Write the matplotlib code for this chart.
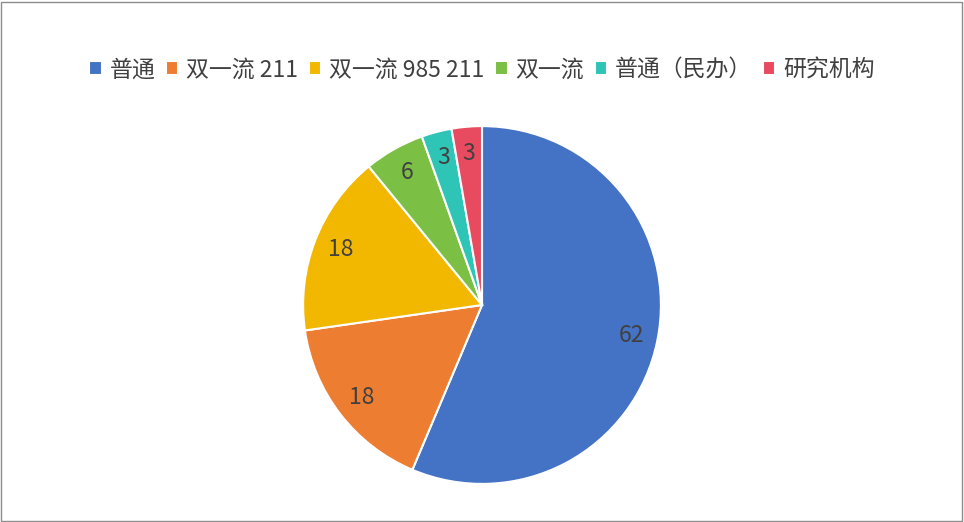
import matplotlib.pyplot as plt
from matplotlib.patches import Rectangle

plt.rcParams['font.family'] = ['Noto Sans CJK SC', 'DejaVu Sans']

categories = ['普通', '双一流 211', '双一流 985 211', '双一流', '普通（民办）', '研究机构']
values = [62, 18, 18, 6, 3, 3]
colors = ['#4472C4', '#ED7D31', '#F2B800', '#7BBF45', '#2EC4B6', '#E84A5F']

fig = plt.figure(figsize=(9.64, 5.22), dpi=100)
ax = fig.add_axes([(482 - 178) / 964, (217 - 178) / 522, 356 / 964, 356 / 522])

wedges, texts = ax.pie(values, colors=colors, startangle=90, counterclock=False,
                       labels=[str(v) for v in values], labeldistance=0.85,
                       wedgeprops=dict(edgecolor='white', linewidth=1.5),
                       textprops=dict(fontsize=16.5, color='#404040'))
for t in texts:
    t.set_ha('center')
    t.set_va('center')
ax.set_xlim(-0.995, 0.995)
ax.set_ylim(-0.995, 0.995)
ax.set_aspect('equal')

fig.legend(wedges, categories, loc='center', bbox_to_anchor=(0.5, 0.866), ncol=6,
           frameon=False, fontsize=16.5, handlelength=0.55, handleheight=0.55,
           handletextpad=0.35, columnspacing=0.45, labelcolor='#404040')

fig.patches.append(Rectangle((0.001, 0.002), 0.997, 0.995, transform=fig.transFigure,
                             fill=False, edgecolor='#8c8c8c', linewidth=1))

fig.savefig('out.png', dpi=100)
